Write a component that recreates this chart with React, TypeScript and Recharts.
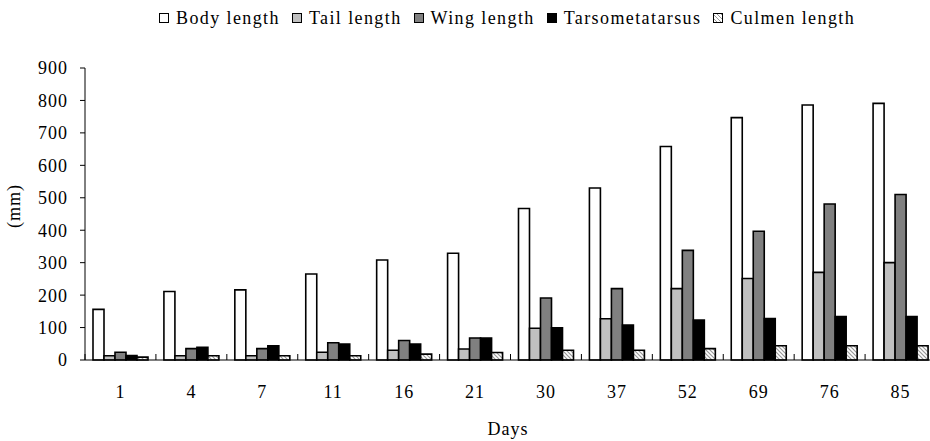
import React from 'react';
import { BarChart, Bar, XAxis, YAxis } from 'recharts';

const days = ['1', '4', '7', '11', '16', '21', '30', '37', '52', '69', '76', '85'];
const bodyLength = [156, 211, 216, 265, 308, 329, 467, 530, 658, 747, 786, 791];
const tailLength = [13, 13, 13, 24, 30, 34, 98, 127, 220, 251, 270, 300];
const wingLength = [24, 35, 35, 53, 60, 68, 191, 220, 338, 397, 481, 510];
const tarsometatarsus = [14, 39, 44, 49, 49, 68, 99, 108, 123, 128, 134, 134];
const culmenLength = [9, 13, 13, 13, 18, 23, 30, 30, 35, 44, 44, 44];
const yTicks = [0, 100, 200, 300, 400, 500, 600, 700, 800, 900];

const rows = days.map((day, i) => ({
  day,
  body: bodyLength[i],
  tail: tailLength[i],
  wing: wingLength[i],
  tarso: tarsometatarsus[i],
  culmen: culmenLength[i],
}));

const FONT = '"Liberation Serif", "Times New Roman", serif';
const CHART_W = 945;
const MARGIN = { top: 68, right: 9, bottom: 0, left: 0 };
const Y_W = 85;
const PLOT_W = CHART_W - MARGIN.left - MARGIN.right - Y_W;
const BAND = PLOT_W / days.length;

const HATCH_CSS =
  'repeating-linear-gradient(45deg, #fff 0px, #fff 1.6px, #999 1.6px, #999 2.8px)';

const legendItems = [
  { label: 'Body length', bg: '#ffffff' },
  { label: 'Tail length', bg: '#c0c0c0' },
  { label: 'Wing length', bg: '#808080' },
  { label: 'Tarsometatarsus', bg: '#000000' },
  { label: 'Culmen length', bg: HATCH_CSS },
];

function DayTick(props: any) {
  const { x, y, payload } = props;
  const edge = x - BAND / 2;
  return (
    <g>
      <line x1={edge} x2={edge} y1={y - 6} y2={y} stroke="#000" strokeWidth={1} />
      <text
        x={x}
        y={y + 38}
        textAnchor="middle"
        fill="#000"
        fontSize={18}
        fontFamily={FONT}
        letterSpacing={1}
      >
        {payload.value}
      </text>
    </g>
  );
}

export default function App() {
  return (
    <div
      style={{
        position: 'absolute',
        left: 0,
        top: 0,
        width: 930,
        height: 441,
        overflow: 'hidden',
        background: '#fff',
        fontFamily: FONT,
        color: '#000',
      }}
    >
      <div
        style={{
          position: 'absolute',
          left: 159,
          top: 7,
          display: 'flex',
          alignItems: 'center',
          gap: 12,
          fontSize: 18,
          letterSpacing: 1.4,
          lineHeight: '22px',
          whiteSpace: 'nowrap',
        }}
      >
        {legendItems.map((item) => (
          <div key={item.label} style={{ display: 'flex', alignItems: 'center' }}>
            <span
              style={{
                width: 8,
                height: 8,
                border: '1px solid #000',
                background: item.bg,
                marginRight: 7,
                display: 'inline-block',
              }}
            />
            {item.label}
          </div>
        ))}
      </div>

      <div
        style={{
          position: 'absolute',
          left: -16,
          top: 195,
          width: 60,
          height: 22,
          lineHeight: '22px',
          textAlign: 'center',
          fontSize: 18,
          letterSpacing: 1,
          transform: 'rotate(-90deg)',
        }}
      >
        (mm)
      </div>

      <div
        style={{
          position: 'absolute',
          left: 458,
          top: 418,
          width: 100,
          lineHeight: '22px',
          textAlign: 'center',
          fontSize: 18,
          letterSpacing: 1,
        }}
      >
        Days
      </div>

      <BarChart
        width={CHART_W}
        height={441}
        data={rows}
        margin={MARGIN}
        barCategoryGap={8}
        barGap={0}
      >
        <defs>
          <pattern id="culmenHatch" patternUnits="userSpaceOnUse" width="4" height="4">
            <rect width="4" height="4" fill="#fff" />
            <path d="M-1,-1 L5,5 M-1,3 L1,5 M3,-1 L5,1" stroke="#999" strokeWidth={1.2} />
          </pattern>
        </defs>
        <XAxis
          dataKey="day"
          height={81}
          interval={0}
          tickLine={false}
          tickSize={0}
          tickMargin={0}
          axisLine={{ stroke: '#000', strokeWidth: 1 }}
          tick={(p: any) => <DayTick {...p} />}
        />
        <YAxis
          width={Y_W}
          domain={[0, 900]}
          ticks={yTicks}
          interval={0}
          tickSize={5}
          tickMargin={12}
          axisLine={{ stroke: '#000', strokeWidth: 1 }}
          tickLine={{ stroke: '#000', strokeWidth: 1 }}
          tick={{ fill: '#000', fontSize: 18, fontFamily: FONT, letterSpacing: 1 }}
        />
        <Bar dataKey="body" fill="#ffffff" stroke="#000" strokeWidth={1.6} isAnimationActive={false} />
        <Bar dataKey="tail" fill="#c0c0c0" stroke="#000" strokeWidth={1.6} isAnimationActive={false} />
        <Bar dataKey="wing" fill="#808080" stroke="#000" strokeWidth={1.6} isAnimationActive={false} />
        <Bar dataKey="tarso" fill="#000000" stroke="#000" strokeWidth={1.6} isAnimationActive={false} />
        <Bar dataKey="culmen" fill="url(#culmenHatch)" stroke="#000" strokeWidth={1.6} isAnimationActive={false} />
      </BarChart>
    </div>
  );
}
